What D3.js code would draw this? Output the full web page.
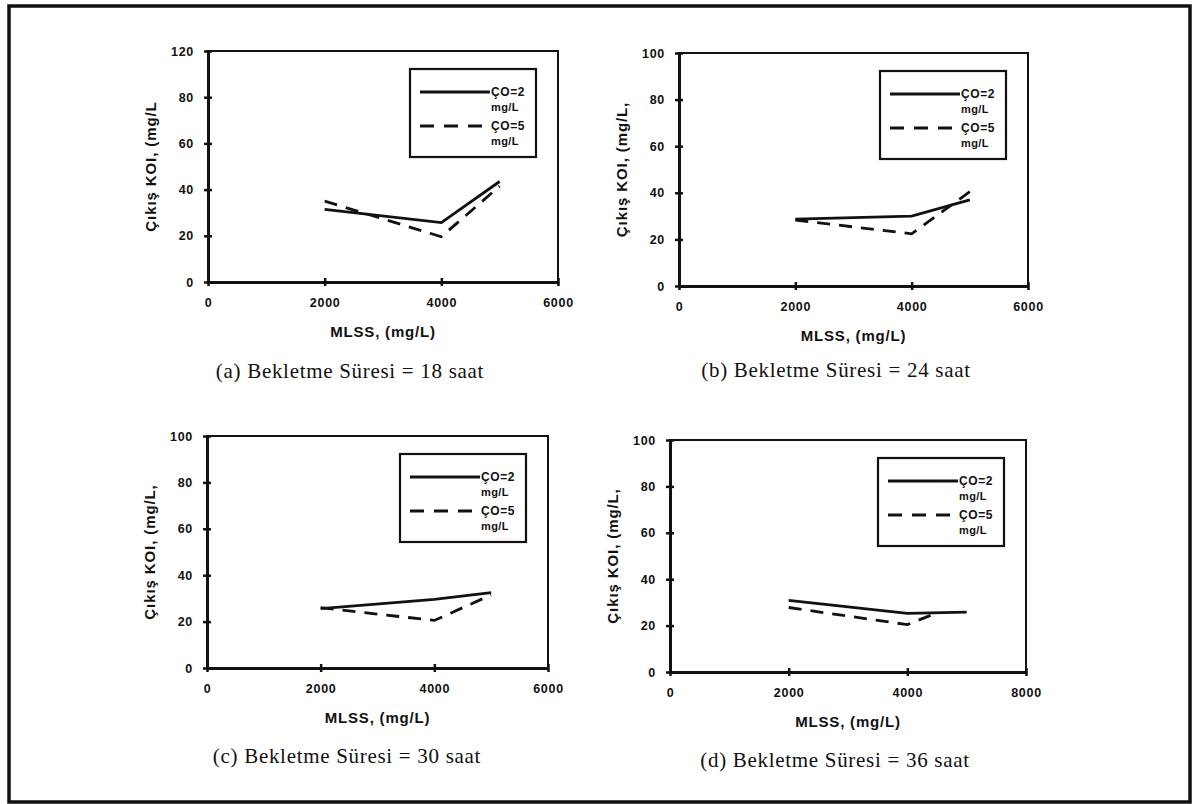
<!DOCTYPE html>
<html>
<head>
<meta charset="utf-8">
<script src="https://cdn.jsdelivr.net/npm/d3@7/dist/d3.min.js"></script>
<style>
  html, body { margin: 0; padding: 0; background: #fff; }
  svg { display: block; }
  .tick text { font-family: "Liberation Sans", Arial, sans-serif; font-weight: bold; font-size: 12.5px; letter-spacing: 0.7px; fill: #111; }
</style>
</head>
<body>
<svg id="chart" width="1194" height="804"></svg>
<script>
// ---------- DATA ----------
const panelIds = ["a", "b", "c", "d"];
const captions = [
  "(a) Bekletme Süresi = 18 saat",
  "(b) Bekletme Süresi = 24 saat",
  "(c) Bekletme Süresi = 30 saat",
  "(d) Bekletme Süresi = 36 saat"
];
const seriesNames = ["ÇO=2", "ÇO=5"];
const seriesUnit = "mg/L";
const xTitle = "MLSS, (mg/L)";
const yTitles = ["Çıkış KOI, (mg/L", "Çıkış KOI, (mg/L,", "Çıkış KOI, (mg/L,", "Çıkış KOI, (mg/L,"];

const xTickValues = [0, 2000, 4000, 6000];
const xTickLabels = [
  ["0", "2000", "4000", "6000"],
  ["0", "2000", "4000", "6000"],
  ["0", "2000", "4000", "6000"],
  ["0", "2000", "4000", "8000"]
];
const yTickValues = [0, 20, 40, 60, 80, 100];
const yTickLabels = [
  ["0", "20", "40", "60", "80", "120"],
  ["0", "20", "40", "60", "80", "100"],
  ["0", "20", "40", "60", "80", "100"],
  ["0", "20", "40", "60", "80", "100"]
];

// MLSS (mg/L) values per panel and series
const co2X = [[2000, 4000, 5000], [2000, 4000, 5000], [2000, 4000, 5000], [2000, 4000, 5000]];
const co2Y = [[31.4, 25.7, 43.5], [28.7, 30.0, 37.0], [25.6, 29.6, 32.5], [30.9, 25.3, 25.8]];
const co5X = [[2000, 4000, 5000], [2000, 4000, 5000], [2000, 4000, 5000], [2000, 4000, 4400]];
const co5Y = [[35.0, 19.6, 41.5], [28.3, 22.4, 40.5], [26.0, 20.5, 31.5], [27.8, 20.4, 24.5]];

// ---------- LAYOUT ----------
const layout = [
  { x0: 208, x1: 558, y0: 51, y1: 282, cx: 350, cy: 378 },
  { x0: 679, x1: 1028, y0: 53, y1: 286, cx: 836, cy: 377 },
  { x0: 207, x1: 548, y0: 436, y1: 668, cx: 347, cy: 763 },
  { x0: 670, x1: 1026, y0: 440, y1: 672, cx: 835, cy: 767 }
];

const svg = d3.select("#chart");
const sans = '"Liberation Sans", Arial, sans-serif';
const serif = '"Liberation Serif", "Times New Roman", serif';

// outer frame
svg.append("rect").attr("x", 9).attr("y", 6).attr("width", 1181).attr("height", 796)
  .attr("fill", "none").attr("stroke", "#111").attr("stroke-width", 3.5);

panelIds.forEach((id, i) => {
  const L = layout[i];
  const x = d3.scaleLinear().domain([0, 6000]).range([L.x0, L.x1]);
  const y = d3.scaleLinear().domain([0, 100]).range([L.y1, L.y0]);
  const g = svg.append("g").attr("class", "panel-" + id);

  // plot box (top/right thinner)
  g.append("rect").attr("x", L.x0).attr("y", L.y0)
    .attr("width", L.x1 - L.x0).attr("height", L.y1 - L.y0)
    .attr("fill", "none").attr("stroke", "#111").attr("stroke-width", 2);

  // axes
  const xAxis = d3.axisBottom(x).tickValues(xTickValues)
    .tickFormat((d, k) => xTickLabels[i][k]).tickSizeInner(4).tickSizeOuter(0).tickPadding(12);
  const gx = g.append("g").attr("transform", `translate(0,${L.y1})`).call(xAxis);
  gx.select(".domain").attr("stroke", "#111").attr("stroke-width", 3);
  gx.selectAll(".tick line").attr("y1", -4).attr("stroke", "#111").attr("stroke-width", 2.5);

  const yAxis = d3.axisLeft(y).tickValues(yTickValues)
    .tickFormat((d, k) => yTickLabels[i][k]).tickSizeInner(4).tickSizeOuter(0).tickPadding(10);
  const gy = g.append("g").attr("transform", `translate(${L.x0},0)`).call(yAxis);
  gy.select(".domain").attr("stroke", "#111").attr("stroke-width", 3);
  gy.selectAll(".tick line").attr("x1", 4).attr("stroke", "#111").attr("stroke-width", 2.5);

  // axis titles
  g.append("text").attr("x", (L.x0 + L.x1) / 2).attr("y", L.y1 + 55)
    .attr("text-anchor", "middle").attr("font-family", sans).attr("font-weight", "bold")
    .attr("font-size", 15).attr("letter-spacing", 0.8).attr("fill", "#111").text(xTitle);
  g.append("text")
    .attr("transform", `translate(${L.x0 - 58},${(L.y0 + L.y1) / 2}) rotate(-90)`)
    .attr("text-anchor", "middle").attr("dominant-baseline", "central")
    .attr("font-family", sans).attr("font-weight", "bold")
    .attr("font-size", 15).attr("letter-spacing", 0.9).attr("fill", "#111").text(yTitles[i]);

  // series lines
  const line = d3.line().x(d => x(d[0])).y(d => y(d[1]));
  const s1 = co2X[i].map((v, k) => [v, co2Y[i][k]]);
  const s2 = co5X[i].map((v, k) => [v, co5Y[i][k]]);
  g.append("path").datum(s2).attr("d", line).attr("fill", "none")
    .attr("stroke", "#111").attr("stroke-width", 2.8).attr("stroke-dasharray", "13,9");
  g.append("path").datum(s1).attr("d", line).attr("fill", "none")
    .attr("stroke", "#111").attr("stroke-width", 2.8);

  // legend
  const lw = 126, lh = 88;
  const lx = L.x1 - 22 - lw, ly = L.y0 + 18;
  const lg = g.append("g").attr("transform", `translate(${lx},${ly})`);
  lg.append("rect").attr("width", lw).attr("height", lh).attr("fill", "#fff")
    .attr("stroke", "#111").attr("stroke-width", 2.2);
  const rows = [{ yy: 23, dash: null }, { yy: 57, dash: "14,10" }];
  rows.forEach((r, k) => {
    const ln = lg.append("line").attr("x1", 10).attr("x2", 80).attr("y1", r.yy).attr("y2", r.yy)
      .attr("stroke", "#111").attr("stroke-width", 2.8);
    if (r.dash) ln.attr("stroke-dasharray", r.dash);
    lg.append("text").attr("x", 81).attr("y", r.yy).attr("dominant-baseline", "central")
      .attr("font-family", sans).attr("font-weight", "bold").attr("font-size", 12)
      .attr("letter-spacing", 0.6).attr("fill", "#111").text(seriesNames[k]);
    lg.append("text").attr("x", 81).attr("y", r.yy + 15).attr("dominant-baseline", "central")
      .attr("font-family", sans).attr("font-weight", "bold").attr("font-size", 11)
      .attr("letter-spacing", 0.4).attr("fill", "#111").text(seriesUnit);
  });

  // caption
  g.append("text").attr("x", L.cx).attr("y", L.cy).attr("text-anchor", "middle")
    .attr("font-family", serif).attr("font-size", 21).attr("letter-spacing", 0.7)
    .attr("fill", "#111").text(captions[i]);
});
</script>
</body>
</html>
